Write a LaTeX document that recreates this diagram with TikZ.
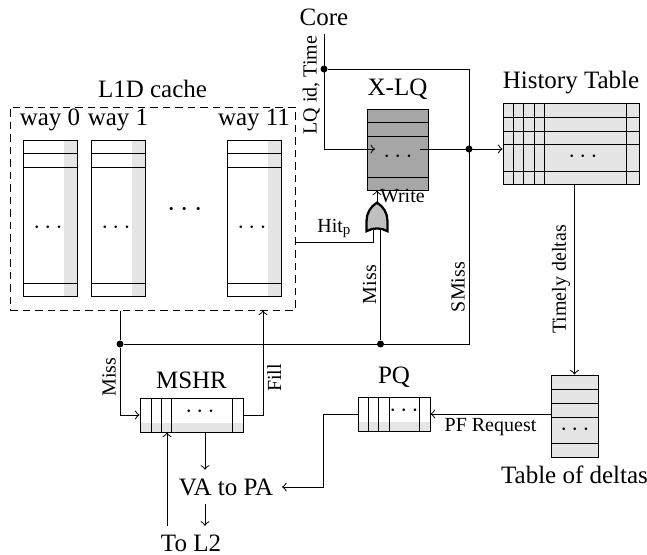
\documentclass[tikz,border=0pt]{standalone}
\usepackage{fontspec}
\setmainfont{Liberation Serif}
\usetikzlibrary{fit,positioning,shapes.gates.logic.US}

\tikzstyle{box} = [draw, inner sep=0pt]
\tikzstyle{lbl} = [font=\footnotesize, inner sep=1.5pt]
\tikzstyle{jdot} = [circle, fill, inner sep=0pt, minimum size=2.8pt]
\tikzstyle{dots} = [inner sep=0pt]

\begin{document}
\begin{tikzpicture}[x=0.4pt, y=-0.4pt]
\useasboundingbox (0,0) rectangle (647,554);

\node (core) at (324,17) {Core};

\node[box, dash pattern=on 3pt off 2pt, fit={(10,107) (295,310)}] (l1d) {};
\node[above=0pt of l1d] (l1dt) {L1D cache};
\foreach \x/\k in {23/0, 91/1, 227/11} {
    \fill[gray!20] (\x+41,140) rectangle (\x+54,296);
    \node[box, fit={(\x,140) (\x+54,296)}] (way\k) {};
    \node[above=0pt of way\k] (wayl\k) {way \k};
    \foreach \y in {153,167,283}
        \draw (\x,\y) -- (\x+54,\y);
    \node[dots] (wayd\k) at (\x+25,228) {$\cdots$};
}
\node[dots, font=\large] (waydots) at (185,210) {$\cdots$};

\node[box, fill=gray!70, fit={(367,109) (428,190)}] (xlq) {};
\node[above=0pt of xlq] (xlqt) {X-LQ};
\foreach \y in {122,136,177}
    \draw (367,\y) -- (428,\y);
\node[dots] (xlqd) at (398,157) {$\cdots$};

\node[box, fill=gray!20, fit={(503,103) (639,184)}] (ht) {};
\node[above=0pt of ht] (htt) {History Table};
\foreach \y in {117,131,144,171}
    \draw (503,\y) -- (639,\y);
\foreach \x in {513,523,534,544,626}
    \draw (\x,103) -- (\x,184);
\node[dots] (htd) at (583,157) {$\cdots$};

\node[box, fill=gray!20, fit={(551,375) (598,457)}] (td) {};
\node[below=0pt of td] (tdt) {Table of deltas};
\foreach \y in {389,403,417,443}
    \draw (551,\y) -- (598,\y);
\node[dots] (tdd) at (575,430) {$\cdots$};

\fill[gray!20] (358,422) rectangle (430,431);
\node[box, fit={(358,397) (430,431)}] (pq) {};
\node[above=0pt of pq] (pqt) {PQ};
\foreach \x in {368,378,389,419}
    \draw (\x,397) -- (\x,431);
\node[dots] (pqd) at (404,411) {$\cdots$};

\fill[gray!20] (140,423) rectangle (243,432);
\node[box, fit={(140,398) (243,432)}] (mshr) {};
\node[above=0pt of mshr] (mshrt) {MSHR};
\foreach \x in {151,161,171,232}
    \draw (\x,398) -- (\x,432);
\node[dots] (mshrd) at (200,412) {$\cdots$};

\node (va) at (226,487) {VA to PA};
\node (l2) at (191,543) {To L2};

\node[or gate US, draw, fill=gray!50, line width=0.9pt, rotate=90, scale=0.48,
      logic gate inputs=nn] (orgate) at (377,219) {};

\coordinate (xlqin) at (375,149);
\coordinate (xlqout) at (420,149);
\node[jdot] (j1) at (324,69) {};
\node[jdot] (j2) at (469,149) {};
\node[jdot] (j5) at (120,344) {};
\node[jdot] (j4) at (orgate.input 2 |- j5) {};
\coordinate (smc) at (j2 |- j5);

\draw[->] (core) |- (xlqin);
\node[lbl, rotate=90, anchor=south] (lqid) at (324,85) {LQ id, Time};
\draw (j1) -| (smc) -- (j5);
\node[lbl, rotate=90, anchor=south] (smiss) at (469,287) {SMiss};
\draw[->] (xlqout) -- (ht.west |- xlqout);

\draw[->] (orgate.output) -- (orgate.output |- xlq.south)
    node[lbl, midway, right, inner sep=1pt] (wr) {Write};
\draw (orgate.input 1) |- (l1d.east |- 0,242)
    node[lbl, pos=0.75, above] (hit) {Hit\textsubscript{p}};
\draw (j4) -- (orgate.input 2)
    node[lbl, midway, rotate=90, anchor=south] (miss1) {Miss};

\draw[->] (l1d.south -| j5) -- (j5) |- (mshr.west);
\node[lbl, rotate=90, anchor=south] (miss2) at (120,377) {Miss};
\draw[->] (mshr.east) -| (l1d.south -| 263,0);
\node[lbl, rotate=90, anchor=north] (fillt) at (263,378) {Fill};

\draw[->] (ht.south -| td.north) -- (td.north)
    node[lbl, midway, rotate=90, anchor=south] (timely) {Timely deltas};
\draw[->] (td.west |- pq.east) -- (pq.east)
    node[lbl, midway, below] (pfr) {PF Request};
\draw[->] (pq.west) -- ++(-34,0) |- (va.east);

\draw[->] (mshr.south -| 205,0) -- (va.north -| 205,0);
\draw[->] (va.south -| 205,0) -- (l2.north -| 205,0);
\draw[->] (l2.north -| 167,0) -- (mshr.south -| 167,0);
\end{tikzpicture}
\end{document}
